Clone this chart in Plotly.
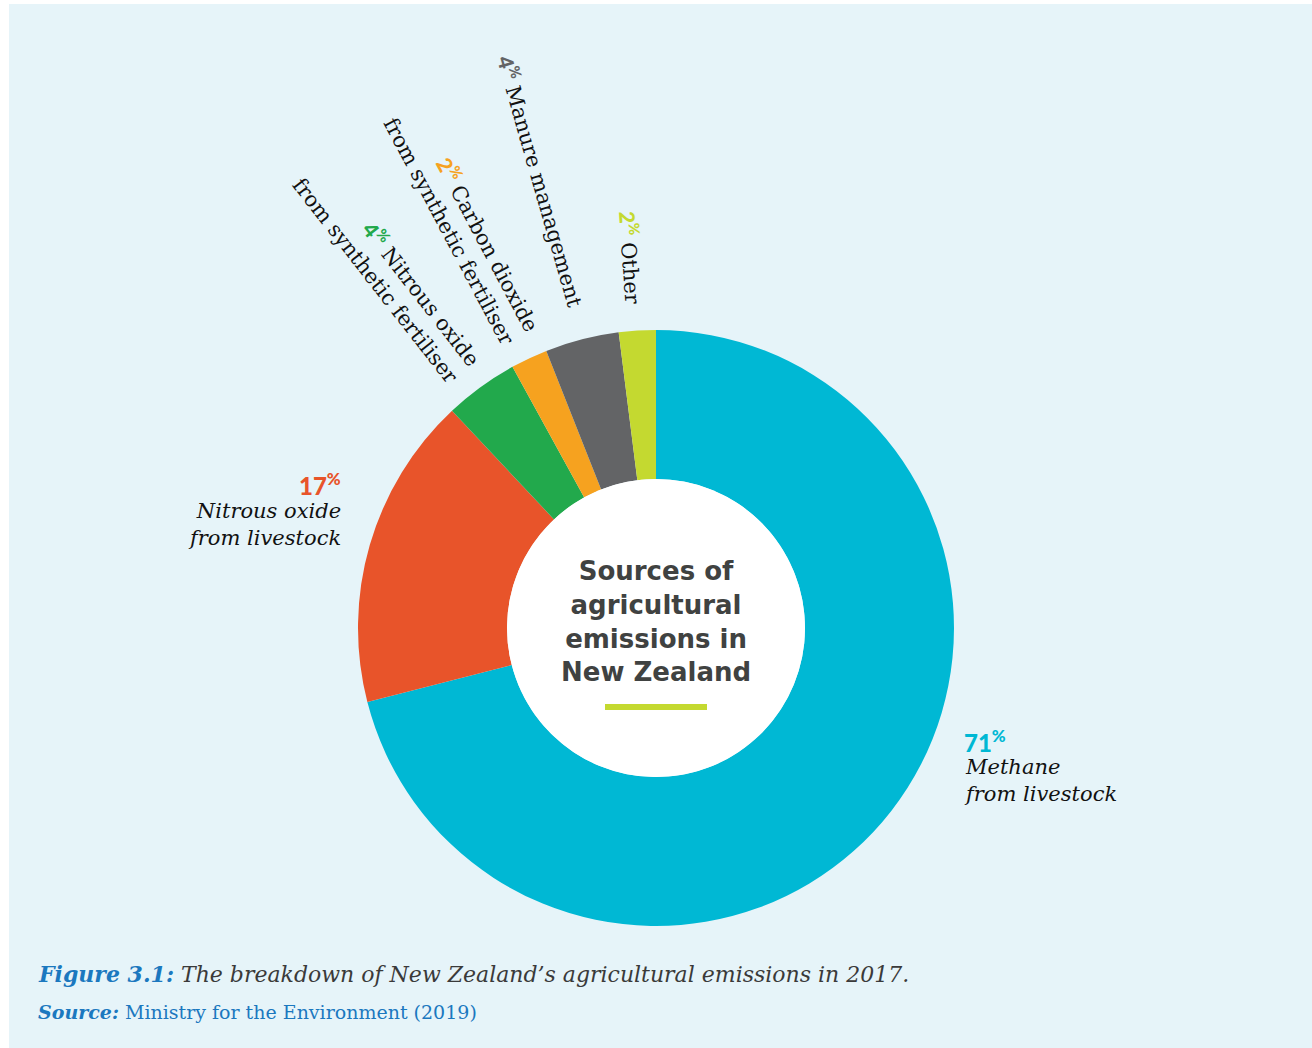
import plotly.graph_objects as go

W, H = 1312, 1048

categories = ["Methane from livestock", "Nitrous oxide from livestock",
              "Nitrous oxide from synthetic fertiliser", "Carbon dioxide from synthetic fertiliser",
              "Manure management", "Other"]
values = [71, 17, 4, 2, 4, 2]
colors = ["#00b8d4", "#e8542a", "#22a94c", "#f6a21f", "#636466", "#c4d930"]

def px(x):
    return x / W

def py(y):
    return 1 - y / H

fig = go.Figure()

# pie centred at (656, 628) px, radius 298 px
cx, cy, r = 656, 628, 298
fig.add_trace(go.Pie(
    labels=categories, values=values, sort=False, direction="clockwise", rotation=0,
    hole=0.5, marker=dict(colors=colors, line=dict(width=0)),
    textinfo="none", hoverinfo="label+percent", showlegend=False,
    domain=dict(x=[px(cx - r), px(cx + r)], y=[py(cy + r), py(cy - r)]),
))

shapes = [
    dict(type="rect", xref="paper", yref="paper", x0=px(9), x1=1, y0=0, y1=py(4),
         fillcolor="#e6f4f9", line=dict(width=0), layer="below"),
    dict(type="circle", xref="paper", yref="paper", x0=px(cx - 149), x1=px(cx + 149),
         y0=py(cy + 149), y1=py(cy - 149), fillcolor="white", line=dict(width=0), layer="above"),
    dict(type="rect", xref="paper", yref="paper", x0=px(605), x1=px(707), y0=py(710), y1=py(704),
         fillcolor="#c4d930", line=dict(width=0), layer="above"),
]

SERIF = "DejaVu Serif"
PCT = "Lato"

def pct(v, c):
    return f'<span style="font-family:{PCT};font-weight:900;color:{c}">{v}<sup>%</sup></span>'

ann = []
# center title
ann.append(dict(x=px(656), y=py(621), xref="paper", yref="paper", showarrow=False,
                text="<b>Sources of<br>agricultural<br>emissions in<br>New Zealand</b>",
                font=dict(family="DejaVu Sans", size=26, color="#404241"), align="center",
                xanchor="center", yanchor="middle"))

# rotated labels
rot = [
    (632, 258, 86, f"{pct(values[5], colors[5])} Other"),
    (541, 181, 74, f"{pct(values[4], colors[4])} Manure management"),
    (463, 224, 62, f"{pct(values[3], colors[3])} Carbon dioxide<br>from synthetic fertiliser"),
    (388, 271, 52, f"{pct(values[2], colors[2])} Nitrous oxide<br>from synthetic fertiliser"),
]
for x, y, a, t in rot:
    ann.append(dict(x=px(x), y=py(y), xref="paper", yref="paper", showarrow=False, text=t,
                    textangle=a, align="right", xanchor="center", yanchor="middle",
                    font=dict(family=SERIF, size=21, color="#111111")))

# horizontal labels
ann.append(dict(x=px(343), y=py(484), xref="paper", yref="paper", showarrow=False,
                text=pct(values[1], colors[1]), xanchor="right", yanchor="middle",
                font=dict(family=PCT, size=24, color=colors[1])))
ann.append(dict(x=px(343), y=py(524), xref="paper", yref="paper", showarrow=False,
                text="<i>Nitrous oxide<br>from livestock</i>", align="right",
                xanchor="right", yanchor="middle",
                font=dict(family=SERIF, size=21, color="#111111")))
ann.append(dict(x=px(962), y=py(741), xref="paper", yref="paper", showarrow=False,
                text=pct(values[0], colors[0]), xanchor="left", yanchor="middle",
                font=dict(family=PCT, size=24, color=colors[0])))
ann.append(dict(x=px(962), y=py(780), xref="paper", yref="paper", showarrow=False,
                text="<i>Methane<br>from livestock</i>", align="left",
                xanchor="left", yanchor="middle",
                font=dict(family=SERIF, size=21, color="#111111")))

# caption
ann.append(dict(x=px(36), y=py(974), xref="paper", yref="paper", showarrow=False,
                text='<b><i><span style="color:#1b78bf">Figure 3.1:</span></i></b>'
                     '<i> The breakdown of New Zealand\u2019s agricultural emissions in 2017.</i>',
                xanchor="left", yanchor="middle",
                font=dict(family=SERIF, size=22, color="#3a3a3a")))
ann.append(dict(x=px(36), y=py(1012), xref="paper", yref="paper", showarrow=False,
                text='<b><i>Source:</i></b> Ministry for the Environment (2019)',
                xanchor="left", yanchor="middle",
                font=dict(family=SERIF, size=19, color="#1b78bf")))

fig.update_layout(width=W, height=H, margin=dict(l=0, r=0, t=0, b=0),
                  paper_bgcolor="white", plot_bgcolor="white",
                  shapes=shapes, annotations=ann)

fig.write_html("out.html", config={"displayModeBar": False},
               post_script="document.body.style.margin='0';")
